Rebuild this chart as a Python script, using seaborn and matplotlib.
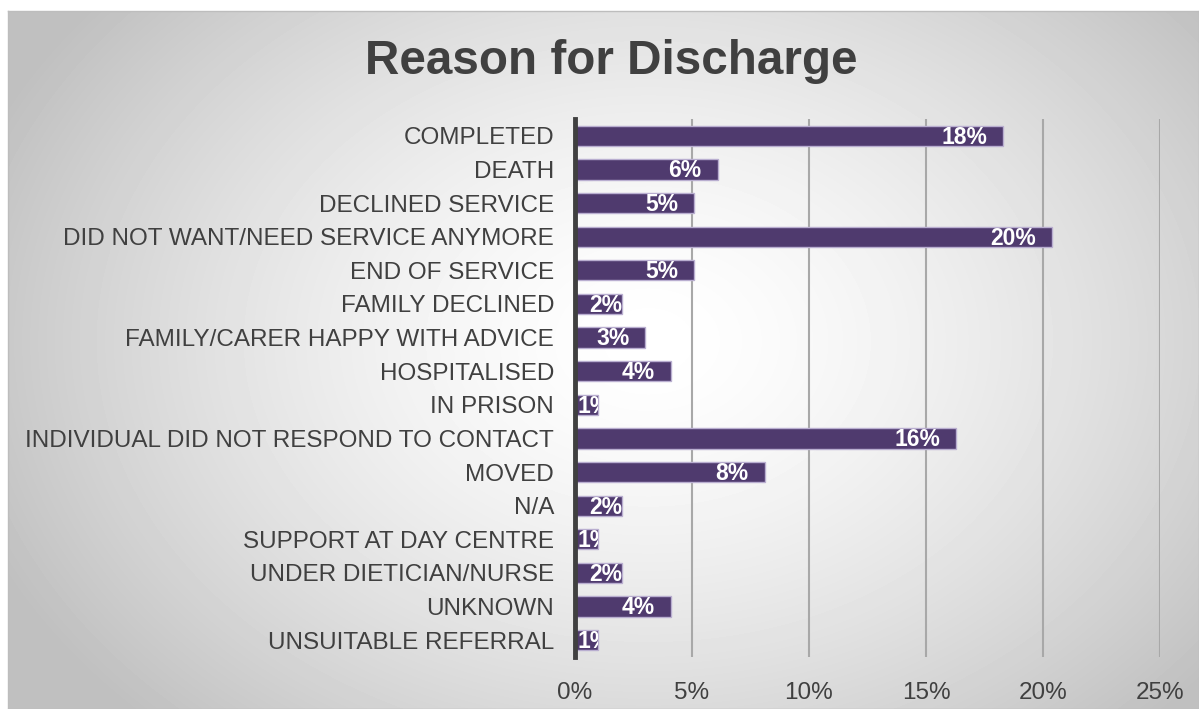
import numpy as np
import matplotlib
matplotlib.use("Agg")
import matplotlib.pyplot as plt
import seaborn as sns
import pandas as pd

# Data
reasons = [
    "COMPLETED",
    "DEATH",
    "DECLINED SERVICE",
    "DID NOT WANT/NEED SERVICE ANYMORE",
    "END OF SERVICE",
    "FAMILY DECLINED",
    "FAMILY/CARER HAPPY WITH ADVICE",
    "HOSPITALISED",
    "IN PRISON",
    "INDIVIDUAL DID NOT RESPOND TO CONTACT",
    "MOVED",
    "N/A",
    "SUPPORT AT DAY CENTRE",
    "UNDER DIETICIAN/NURSE",
    "UNKNOWN",
    "UNSUITABLE REFERRAL",
]
share = [0.183, 0.061, 0.051, 0.204, 0.051, 0.020, 0.030, 0.041,
         0.010, 0.163, 0.081, 0.020, 0.010, 0.020, 0.041, 0.010]
x_ticks = [0, 0.05, 0.10, 0.15, 0.20, 0.25]

df = pd.DataFrame({"Reason": reasons, "Share": share})

sns.set_style("white")
plt.rcParams["font.family"] = ["Liberation Sans", "DejaVu Sans"]

W, H = 1199, 709
fig = plt.figure(figsize=(W / 100, H / 100), dpi=100, facecolor="white")

# radial grey background like the original chart area
bg = fig.add_axes([8 / W, 0, 1 - 8 / W, 1 - 11 / H], zorder=-5)
gy, gx = np.mgrid[0:H - 11, 0:W - 8]
cx, cy = 640, 330
d = np.sqrt(((gx - cx) / 700.0) ** 2 + ((gy - cy) / 520.0) ** 2)
shade = np.clip(1 - 0.24 * d ** 1.5, 0.75, 1)
bg.imshow(shade, cmap="gray", vmin=0, vmax=1, aspect="auto", interpolation="bilinear")
bg.set_xticks([])
bg.set_yticks([])
for s in bg.spines.values():
    s.set_color("#bdbdbd")
    s.set_linewidth(1)

ax = fig.add_axes([575 / W, 1 - 657 / H, (1160 - 575) / W, (657 - 119) / H])
ax.set_facecolor("none")

sns.barplot(data=df, x="Share", y="Reason", orient="h", color="#4f3a6e",
            width=0.6, saturation=1, edgecolor="#b9aed0", linewidth=1, ax=ax)

ax.set_xlim(0, 0.25)
ax.set_ylim(15.5, -0.5)
ax.set_xticks(x_ticks)
ax.set_xticklabels([f"{int(round(t * 100))}%" for t in x_ticks])
ax.xaxis.grid(True, color="#a8a8a8", linewidth=1.5)
ax.set_axisbelow(True)
ax.tick_params(axis="both", length=0, labelsize=17.5, labelcolor="#404040")
ax.tick_params(axis="y", pad=15)
ax.tick_params(axis="x", pad=18)
ax.set_xlabel("")
ax.set_ylabel("")
for name in ["top", "right", "bottom"]:
    ax.spines[name].set_visible(False)
ax.spines["left"].set_color("#404040")
ax.spines["left"].set_linewidth(3.5)
ax.spines["left"].set_zorder(5)

# data labels, white bold, clipped to each bar
for patch, val in zip(ax.patches, share):
    end = patch.get_x() + patch.get_width()
    yc = patch.get_y() + patch.get_height() / 2
    if val >= 0.03:
        off = -16
    elif val >= 0.02:
        off = 0
    else:
        off = 12
    t = ax.annotate(f"{val * 100:.0f}%", xy=(end, yc), xytext=(off * 0.72, -1),
                    textcoords="offset points", ha="right", va="center",
                    color="white", fontsize=16.5, fontweight="bold", zorder=4)
    t.set_clip_path(patch)

fig.text(611 / W, 1 - 62 / H, "Reason for Discharge", ha="center", va="center",
         fontsize=34.3, fontweight="bold", color="#404040")

plt.savefig("out.png", dpi=100)
